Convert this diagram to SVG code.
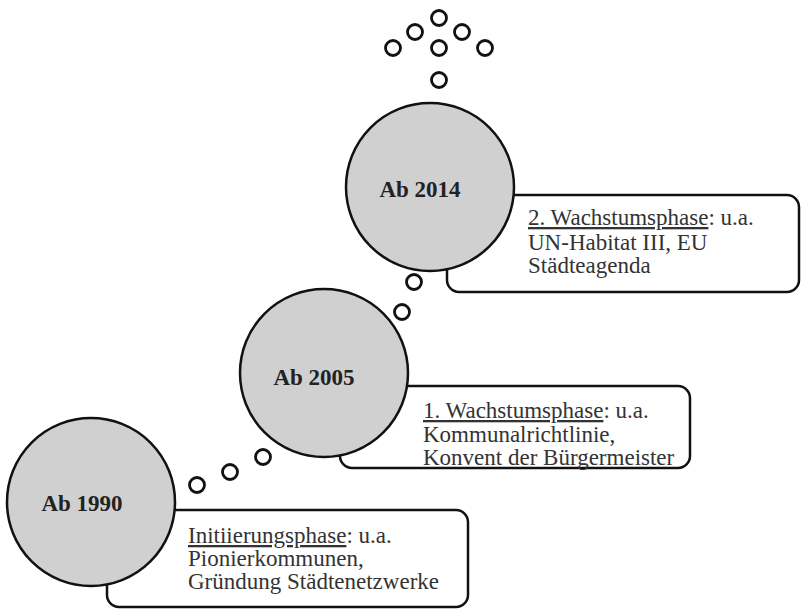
<svg xmlns="http://www.w3.org/2000/svg" width="803" height="609" viewBox="0 0 803 609">
<style>
.box{fill:#fff;stroke:#111;stroke-width:2.5}
.big{fill:#d0d0d0;stroke:#111;stroke-width:2.5}
.bub{fill:#fff;stroke:#111;stroke-width:2.8}
.yr{font-family:"Liberation Serif","Times New Roman",serif;font-weight:bold;font-size:23px;fill:#222;text-anchor:middle}
.tx{font-family:"Liberation Serif","Times New Roman",serif;font-size:23px;fill:#333}
.u{text-decoration:underline}
</style>
<rect width="803" height="609" fill="#fff"/>
<g id="connectors">
<circle class="bub" cx="197" cy="485" r="7.5"/>
<circle class="bub" cx="230" cy="472" r="7.5"/>
<circle class="bub" cx="263" cy="457" r="7.5"/>
<circle class="bub" cx="402" cy="312" r="7.5"/>
<circle class="bub" cx="414" cy="282" r="7.5"/>
<circle class="bub" cx="439" cy="80" r="7.5"/>
<circle class="bub" cx="393" cy="48" r="7.5"/>
<circle class="bub" cx="439" cy="48" r="7.5"/>
<circle class="bub" cx="485" cy="48" r="7.5"/>
<circle class="bub" cx="415" cy="32" r="7.5"/>
<circle class="bub" cx="462" cy="32" r="7.5"/>
<circle class="bub" cx="439" cy="18" r="7.5"/>
</g>
<g id="phase1990">
<rect class="box" x="107" y="510" width="361" height="97" rx="12"/>
<circle class="big" cx="91" cy="502" r="84"/>
<text class="yr" x="82" y="511">Ab 1990</text>
<text class="tx" x="188" y="543"><tspan class="u">Initiierungsphase</tspan>: u.a.</text>
<text class="tx" x="188" y="566">Pionierkommunen,</text>
<text class="tx" x="188" y="589">Gründung Städtenetzwerke</text>
</g>
<g id="phase2005">
<rect class="box" x="340" y="386" width="350" height="82" rx="12"/>
<circle class="big" cx="324" cy="373" r="84"/>
<text class="yr" x="314" y="385">Ab 2005</text>
<text class="tx" x="423" y="418"><tspan class="u">1. Wachstumsphase</tspan>: u.a.</text>
<text class="tx" x="423" y="442">Kommunalrichtlinie,</text>
<text class="tx" x="423" y="465">Konvent der Bürgermeister</text>
</g>
<g id="phase2014">
<rect class="box" x="447" y="195" width="352" height="97" rx="12"/>
<circle class="big" cx="430" cy="187" r="84"/>
<text class="yr" x="420" y="197">Ab 2014</text>
<text class="tx" x="528" y="225"><tspan class="u">2. Wachstumsphase</tspan>: u.a.</text>
<text class="tx" x="528" y="250">UN-Habitat III, EU</text>
<text class="tx" x="528" y="273">Städteagenda</text>
</g>
</svg>
